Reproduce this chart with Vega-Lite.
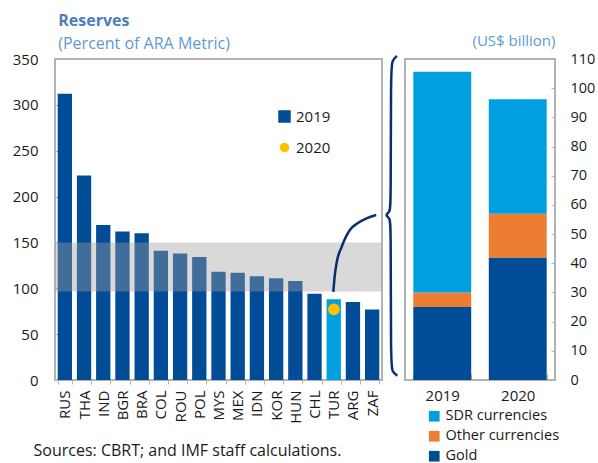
{
  "$schema": "https://vega.github.io/schema/vega-lite/v6.json",
  "background": "white",
  "padding": {"left": 11, "top": 13, "right": 0, "bottom": 0},
  "config": {
    "font": "Open Sans",
    "view": {"stroke": "#b3b3b3", "strokeWidth": 2},
    "axis": {"labelFont": "Open Sans", "labelFontSize": 15, "labelColor": "#1a1a1a", "grid": false, "domain": false, "tickColor": "#b3b3b3", "titleFont": "Open Sans"},
    "legend": {"labelFont": "Open Sans", "labelColor": "#1a1a1a"}
  },
  "title": {"text": "Reserves", "subtitle": "(Percent of ARA Metric)", "anchor": "start", "frame": "bounds", "dx": 47, "fontSize": 16, "fontWeight": "bold", "color": "#4a7ebb", "subtitleFontSize": 16, "subtitleColor": "#5b9bd5", "subtitlePadding": 7, "offset": -20},
  "spacing": 0,
  "resolve": {"scale": {"color": "independent"}},
  "hconcat": [
    {
      "width": 327,
      "height": 321,
      "resolve": {"scale": {"x": "independent"}},
      "layer": [
        {
          "data": {"values": [
            {"country": "RUS", "v2019": 312},
            {"country": "THA", "v2019": 223},
            {"country": "IND", "v2019": 169},
            {"country": "BGR", "v2019": 162},
            {"country": "BRA", "v2019": 160},
            {"country": "COL", "v2019": 141},
            {"country": "ROU", "v2019": 138},
            {"country": "POL", "v2019": 134},
            {"country": "MYS", "v2019": 118},
            {"country": "MEX", "v2019": 117},
            {"country": "IDN", "v2019": 113},
            {"country": "KOR", "v2019": 111},
            {"country": "HUN", "v2019": 108},
            {"country": "CHL", "v2019": 94},
            {"country": "TUR", "v2019": 88},
            {"country": "ARG", "v2019": 85},
            {"country": "ZAF", "v2019": 77}
          ]},
          "mark": {"type": "bar"},
          "encoding": {
            "x": {"field": "country", "type": "nominal", "sort": null,
              "scale": {"domain": ["RUS","THA","IND","BGR","BRA","COL","ROU","POL","MYS","MEX","IDN","KOR","HUN","CHL","TUR","ARG","ZAF"], "paddingInner": 0.255, "paddingOuter": 0.14},
              "axis": {"title": "Sources: CBRT; and IMF staff calculations.", "labelAngle": -90, "tickBand": "extent", "ticks": true, "tickSize": 4, "labelPadding": 6, "titleX": -22, "titleY": 75, "titleAnchor": "start", "titleAlign": "left", "titleBaseline": "alphabetic", "titleFontWeight": "normal", "titleFontSize": 16, "titleColor": "#1a1a1a"}},
            "y": {"field": "v2019", "type": "quantitative", "scale": {"domain": [0, 350]},
              "axis": {"title": null, "values": [0,50,100,150,200,250,300,350], "tickSize": -4, "labelPadding": 21}},
            "color": {"datum": "2019", "type": "nominal",
              "condition": {"test": "datum.country === 'TUR'", "value": "#009fdf"},
              "scale": {"domain": ["2019", "2020"], "range": ["#004c97", "#ffc000"]},
              "legend": {"orient": "none", "legendX": 222, "legendY": 50, "title": null, "labelFontSize": 15, "rowPadding": 15,
                "encode": {"symbols": {"update": {"shape": {"signal": "datum.value === '2019' ? 'square' : 'circle'"}, "size": {"signal": "datum.value === '2019' ? 156 : 90"}}}}}}
          }
        },
        {
          "data": {"values": [{"country": "TUR", "v2020": 77}]},
          "mark": {"type": "point", "filled": true, "size": 137, "opacity": 1},
          "encoding": {
            "x": {"field": "country", "type": "nominal",
              "scale": {"domain": ["RUS","THA","IND","BGR","BRA","COL","ROU","POL","MYS","MEX","IDN","KOR","HUN","CHL","TUR","ARG","ZAF"], "paddingInner": 0.255, "paddingOuter": 0.14},
              "axis": null},
            "y": {"field": "v2020", "type": "quantitative"},
            "color": {"datum": "2020", "type": "nominal"}
          }
        },
        {
          "data": {"values": [{"lo": 96.5, "hi": 150}]},
          "mark": {"type": "rect", "fill": "#a0a0a0", "opacity": 0.4},
          "encoding": {
            "y": {"field": "lo", "type": "quantitative"},
            "y2": {"field": "hi"}
          }
        },
        {
          "data": {"values": [
            {"i": 13.97, "v": 96.0},
            {"i": 14.02, "v": 109.0},
            {"i": 14.14, "v": 127.6},
            {"i": 14.40, "v": 145.0},
            {"i": 14.83, "v": 163.6},
            {"i": 15.25, "v": 171.2},
            {"i": 15.70, "v": 176.3},
            {"i": 16.20, "v": 179.9}
          ]},
          "mark": {"type": "line", "interpolate": "monotone", "color": "#0b2f6b", "strokeWidth": 2.5},
          "encoding": {
            "x": {"field": "i", "type": "quantitative", "scale": {"domain": [-0.5, 16.5], "nice": false, "zero": false}, "axis": null},
            "y": {"field": "v", "type": "quantitative"},
            "order": {"value": null}
          }
        },
        {
          "data": {"values": [
            {"i": 17.28, "v": 353.3},
            {"i": 17.02, "v": 348.9},
            {"i": 16.96, "v": 335.8},
            {"i": 16.96, "v": 190.8},
            {"i": 16.91, "v": 183.2},
            {"i": 16.65, "v": 179.9},
            {"i": 16.91, "v": 176.6},
            {"i": 16.96, "v": 169.0},
            {"i": 16.96, "v": 19.6},
            {"i": 17.02, "v": 8.7},
            {"i": 17.30, "v": 4.8}
          ]},
          "mark": {"type": "line", "interpolate": "basis", "color": "#0b2f6b", "strokeWidth": 2.5},
          "encoding": {
            "x": {"field": "i", "type": "quantitative", "scale": {"domain": [-0.5, 16.5], "nice": false, "zero": false}, "axis": null},
            "y": {"field": "v", "type": "quantitative"},
            "order": {"value": null}
          }
        }
      ]
    },
    {
      "width": 150,
      "height": 321,
      "data": {"values": [
        {"year": "2019", "component": "Gold", "value": 25},
        {"year": "2019", "component": "Other currencies", "value": 5},
        {"year": "2019", "component": "SDR currencies", "value": 75.6},
        {"year": "2020", "component": "Gold", "value": 42},
        {"year": "2020", "component": "Other currencies", "value": 15},
        {"year": "2020", "component": "SDR currencies", "value": 39.2}
      ]},
      "mark": {"type": "bar"},
      "encoding": {
        "x": {"field": "year", "type": "nominal", "scale": {"paddingInner": 0.233, "paddingOuter": 0.11},
          "axis": {"title": null, "labelAngle": 0, "tickBand": "extent", "tickSize": -6, "labelPadding": 14}},
        "y": {"field": "value", "type": "quantitative", "stack": true, "scale": {"domain": [0, 110]},
          "axis": {"orient": "right", "values": [0,10,20,30,40,50,60,70,80,90,100,110], "title": "(US$ billion)", "titleAngle": 0, "titleX": 0, "titleY": -14, "titleAlign": "right", "titleBaseline": "alphabetic", "titleColor": "#5b9bd5", "titleFontWeight": "normal", "titleFontSize": 15, "tickSize": -4, "labelPadding": 19, "labelFontSize": 14.5}},
        "color": {"field": "component", "type": "nominal",
          "scale": {"domain": ["SDR currencies", "Other currencies", "Gold"], "range": ["#009fdf", "#ed7d31", "#004c97"]},
          "legend": {"orient": "none", "legendX": 22, "legendY": 350, "title": null, "labelFontSize": 14.5, "symbolType": "square", "symbolSize": 114, "rowPadding": 5}},
        "order": {"field": "component", "sort": "ascending"}
      }
    }
  ]
}
